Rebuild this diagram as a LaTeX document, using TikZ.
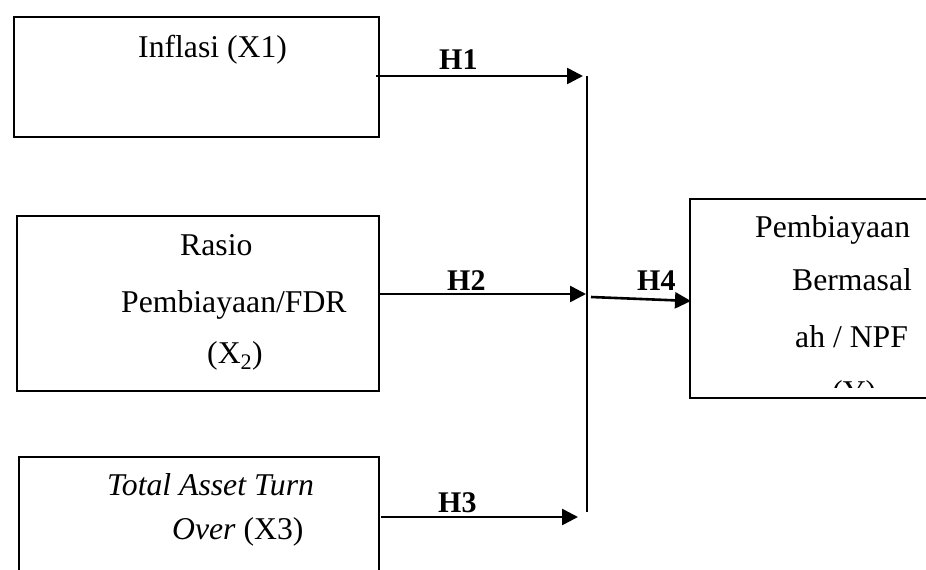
\documentclass[tikz,border=0pt]{standalone}
\usepackage{fontspec}
\setmainfont{Liberation Serif}
\usetikzlibrary{arrows.meta}
\tikzset{
  boxshape/.style={draw, line width=1.8pt, rectangle, inner sep=0pt, anchor=north west},
  txt/.style={inner sep=0pt, anchor=base west, font=\fontsize{31.7}{38}\selectfont},
  hlab/.style={inner sep=0pt, anchor=base west, font=\fontsize{30}{36}\selectfont\bfseries},
  conn/.style={line width=2.6pt, -{Triangle[length=16pt,width=16pt]}},
  busline/.style={line width=1.7pt}
}
\begin{document}
\begin{tikzpicture}[x=1pt,y=-1pt]
\clip (0,0) rectangle (926,570);
\fill[white] (0,0) rectangle (926,570);
% boxes
\node[boxshape, minimum width=365pt, minimum height=120pt] (b1) at (13,16) {};
\node[boxshape, minimum width=362pt, minimum height=175pt] (b2) at (16,215) {};
\node[boxshape, minimum width=360pt, minimum height=140pt] (b3) at (18,456) {};
\node[boxshape, minimum width=260pt, minimum height=199pt] (b4) at (689,198) {};
% texts
\node[txt] (t1) at (138,57) {Inflasi (X1)};
\node[txt] (t2a) at (180,255) {Rasio};
\node[txt] (t2b) at (121,312) {Pembiayaan/FDR};
\node[txt] (t2c) at (207,363) {(X\textsubscript{2})};
\node[txt] (t3a) at (107,495) {\itshape Total Asset Turn};
\node[txt] (t3b) at (172,539) {\itshape Over\/ \upshape(X3)};
\node[txt] (t4a) at (755,237) {Pembiayaan};
\node[txt] (t4b) at (792,290) {Bermasal};
\node[txt] (t4c) at (795,347) {ah / NPF};
\begin{scope}
\clip (689,198) rectangle (926,387);
\node[txt] (t4d) at (832,402) {(Y)};
\end{scope}
% bus line
\coordinate (bt) at (587,76);
\coordinate (bb) at (587,512);
\draw[busline] (bt) -- (bb);
% connectors
\coordinate (s1) at (376,76);
\coordinate (e1) at (583,76);
\coordinate (s2) at (378,294);
\coordinate (e2) at (586,294);
\coordinate (s3) at (381,517);
\coordinate (e3) at (578,517);
\coordinate (s4) at (591,297);
\coordinate (e4) at (691,301);
\draw[conn] (s1) -- (e1);
\draw[conn] (s2) -- (e2);
\draw[conn] (s3) -- (e3);
\draw[conn] (s4) -- (e4);
% labels
\node[hlab] (h1) at (439,69) {H1};
\node[hlab] (h2) at (447,290) {H2};
\node[hlab] (h3) at (438,512) {H3};
\node[hlab] (h4) at (637,290) {H4};
\end{tikzpicture}
\end{document}
